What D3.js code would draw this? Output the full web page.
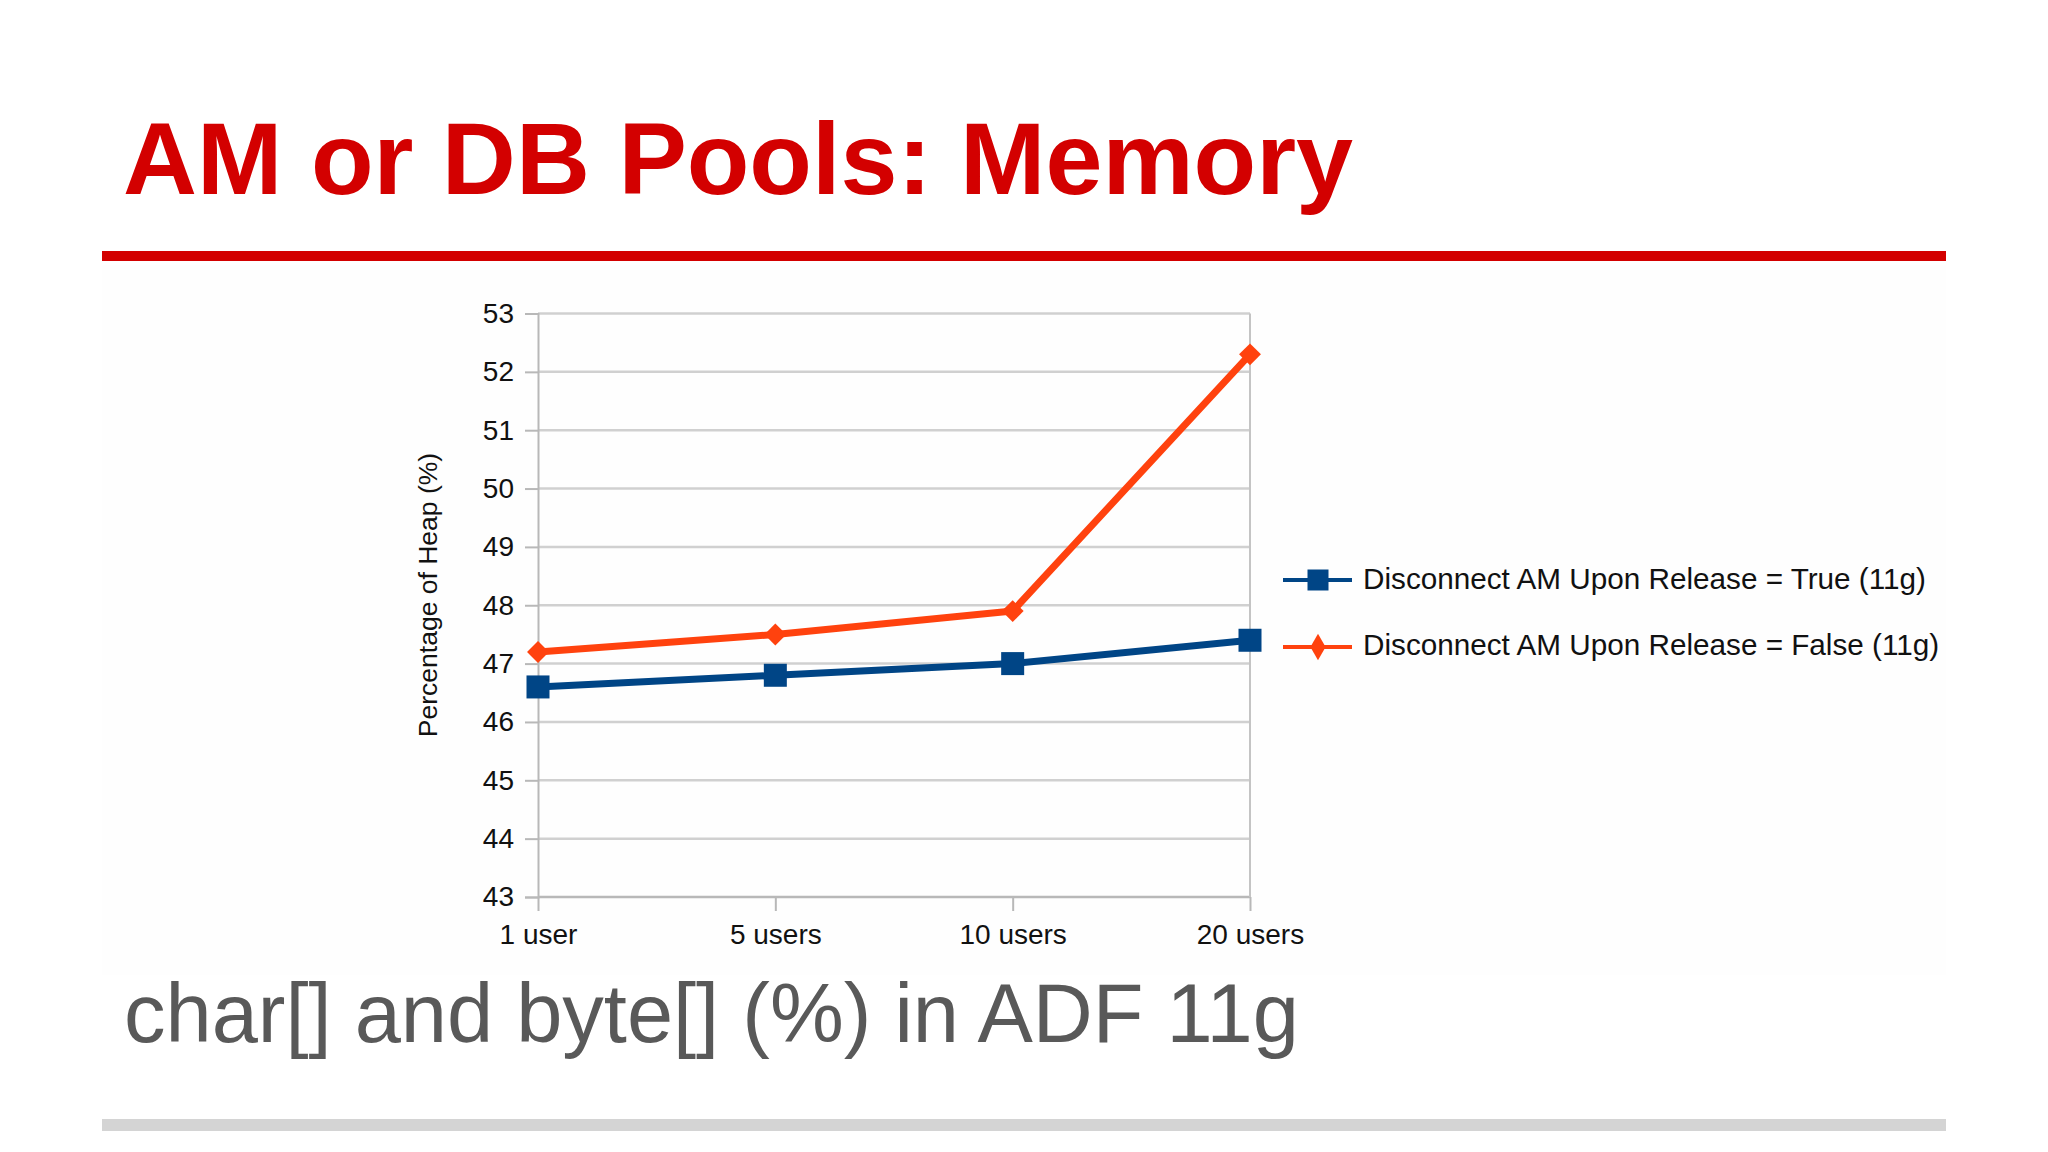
<!DOCTYPE html>
<html>
<head>
<meta charset="utf-8">
<script src="https://cdn.jsdelivr.net/npm/d3@7"></script>
<style>
  html, body { margin: 0; padding: 0; background: #ffffff; }
  svg { display: block; }
  text { font-family: "Liberation Sans", Arial, sans-serif; }
</style>
</head>
<body>
<svg id="chart" width="2048" height="1152"></svg>
<script>
const titleText = "AM or DB Pools: Memory";
const subtitleText = "char[] and byte[] (%) in ADF 11g";
const yAxisTitle = "Percentage of Heap (%)";
const categories = ["1 user", "5 users", "10 users", "20 users"];
const yTicks = [43, 44, 45, 46, 47, 48, 49, 50, 51, 52, 53];
const seriesNames = ["Disconnect AM Upon Release = True (11g)", "Disconnect AM Upon Release = False (11g)"];
const seriesTrue = [46.6, 46.8, 47.0, 47.4];
const seriesFalse = [47.2, 47.5, 47.9, 52.3];

const RED = "#d30000";
const BLUE = "#004586";
const ORANGE = "#ff420e";

const svg = d3.select("#chart");

// slide background for chart image area
svg.append("rect").attr("x", 102).attr("y", 265).attr("width", 1844).attr("height", 710)
  .attr("fill", "#fefefe");

// title
svg.append("text").attr("x", 123).attr("y", 194)
  .attr("font-size", 102.5).attr("font-weight", "bold").attr("fill", RED)
  .text(titleText);
svg.append("rect").attr("x", 102).attr("y", 251).attr("width", 1844).attr("height", 10).attr("fill", RED);

// scales
const x = d3.scalePoint().domain(categories).range([538, 1250]);
const y = d3.scaleLinear().domain([43, 53]).range([897, 313.5]);

const g = svg.append("g");

// gridlines
g.selectAll("line.grid").data(yTicks).join("line")
  .attr("class", "grid")
  .attr("x1", x.range()[0]).attr("x2", x.range()[1])
  .attr("y1", d => y(d)).attr("y2", d => y(d))
  .attr("stroke", d => d === 43 ? "#b8b8b8" : "#d0d0d0")
  .attr("stroke-width", 2.5);

// right border
g.append("line").attr("x1", x.range()[1]).attr("x2", x.range()[1])
  .attr("y1", y(53)).attr("y2", y(43)).attr("stroke", "#c4c4c4").attr("stroke-width", 2);

// y axis
const yAxis = d3.axisLeft(y).tickValues(yTicks).tickSize(13).tickPadding(11).tickFormat(d3.format("d"));
const yg = g.append("g").attr("transform", `translate(${x.range()[0]},0)`).call(yAxis);
yg.select(".domain").attr("stroke", "#b8b8b8").attr("stroke-width", 2);
yg.selectAll(".tick line").attr("stroke", "#b8b8b8").attr("stroke-width", 2);
yg.selectAll(".tick text").attr("font-size", 28).attr("fill", "#111")
  .attr("font-family", "'Liberation Sans', Arial, sans-serif");

// x axis
const xAxis = d3.axisBottom(x).tickSize(14).tickPadding(13);
const xg = g.append("g").attr("transform", `translate(0,${y(43)})`).call(xAxis);
xg.select(".domain").remove();
xg.selectAll(".tick line").attr("stroke", "#b8b8b8").attr("stroke-width", 2);
xg.selectAll(".tick text").attr("font-size", 28).attr("fill", "#111")
  .attr("font-family", "'Liberation Sans', Arial, sans-serif");

// y axis title
svg.append("text")
  .attr("transform", "translate(437,595) rotate(-90)")
  .attr("text-anchor", "middle").attr("font-size", 26.5).attr("fill", "#111")
  .text(yAxisTitle);

// lines
const line = d3.line().x((d, i) => x(categories[i])).y(d => y(d));
const diamond = d3.symbol().type(d3.symbolSquare).size(240);

g.append("path").datum(seriesTrue).attr("d", line)
  .attr("fill", "none").attr("stroke", BLUE).attr("stroke-width", 7).attr("stroke-linejoin", "round");
g.append("path").datum(seriesFalse).attr("d", line)
  .attr("fill", "none").attr("stroke", ORANGE).attr("stroke-width", 7).attr("stroke-linejoin", "round");

g.selectAll("rect.mTrue").data(seriesTrue).join("rect").attr("class", "mTrue")
  .attr("x", (d, i) => x(categories[i]) - 11.5).attr("y", d => y(d) - 11.5)
  .attr("width", 23).attr("height", 23).attr("fill", BLUE);

g.selectAll("path.mFalse").data(seriesFalse).join("path").attr("class", "mFalse")
  .attr("transform", (d, i) => `translate(${x(categories[i])},${y(d)}) rotate(45)`)
  .attr("d", diamond).attr("fill", ORANGE);

// legend
const legendRows = [
  { name: seriesNames[0], color: BLUE, lineY: 580, baseY: 589, marker: "square" },
  { name: seriesNames[1], color: ORANGE, lineY: 647, baseY: 655, marker: "diamond" }
];
const lg = svg.append("g");
legendRows.forEach(r => {
  lg.append("line").attr("x1", 1283).attr("x2", 1352).attr("y1", r.lineY).attr("y2", r.lineY)
    .attr("stroke", r.color).attr("stroke-width", 4);
  if (r.marker === "square") {
    lg.append("rect").attr("x", 1318 - 10.5).attr("y", r.lineY - 10.5)
      .attr("width", 21).attr("height", 21).attr("fill", r.color);
  } else {
    lg.append("path").attr("transform", `translate(1318,${r.lineY})`)
      .attr("d", d3.symbol().type(d3.symbolDiamond).size(200)).attr("fill", r.color);
  }
  lg.append("text").attr("x", 1363).attr("y", r.baseY)
    .attr("font-size", 29.7).attr("fill", "#111").text(r.name);
});

// subtitle
svg.append("text").attr("x", 124).attr("y", 1042)
  .attr("font-size", 83).attr("fill", "#595959").text(subtitleText);

// bottom bar
svg.append("rect").attr("x", 102).attr("y", 1119).attr("width", 1844).attr("height", 12).attr("fill", "#d4d4d4");
</script>
</body>
</html>
